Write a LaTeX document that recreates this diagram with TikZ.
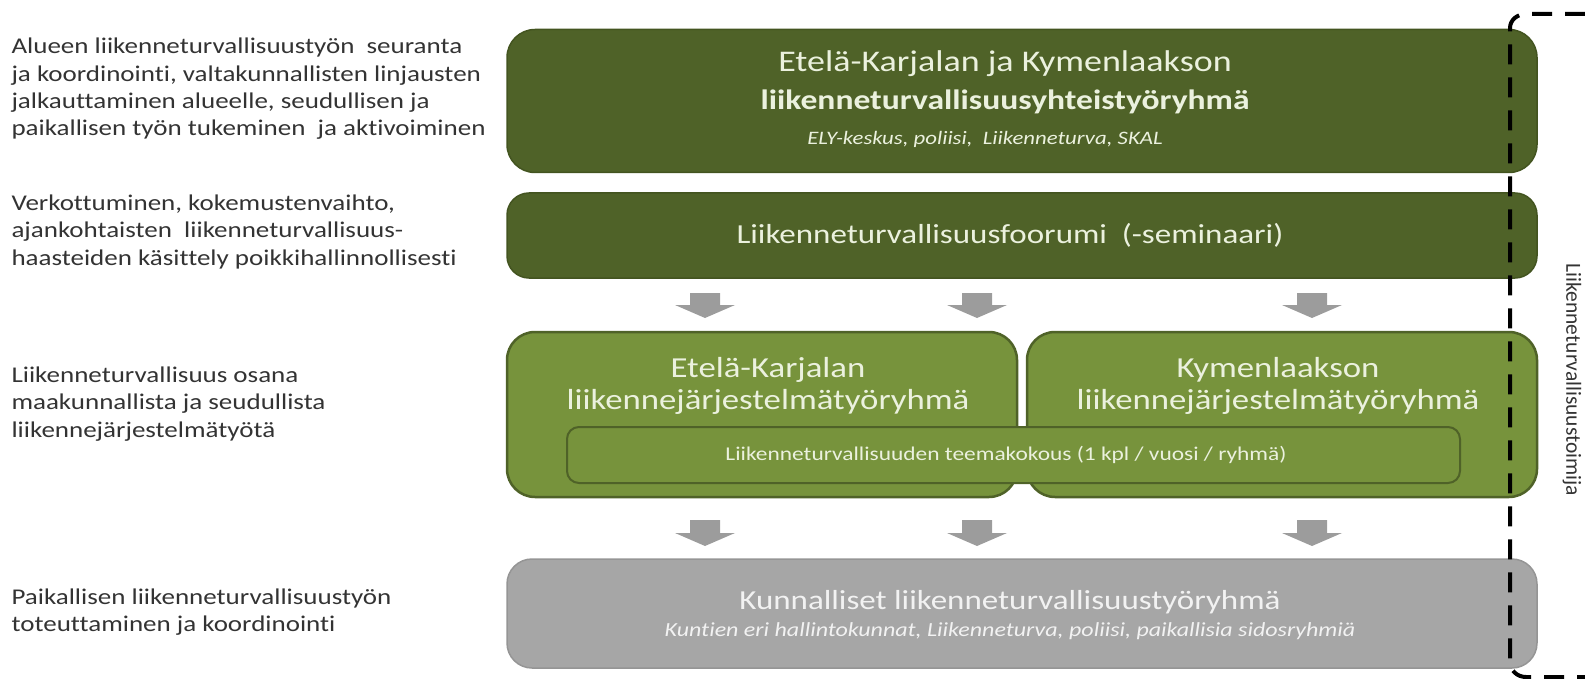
\documentclass[tikz,border=0pt]{standalone}
\usepackage{fontspec}
\setmainfont{Carlito}[FakeStretch=1.2, Ligatures=NoCommon]
\newfontfamily\pystyfont{Carlito}[Ligatures=NoCommon]
\usetikzlibrary{positioning}

\definecolor{tummavihrea}{HTML}{4F6228}
\definecolor{tummareuna}{HTML}{435420}
\definecolor{vihrea}{HTML}{77933C}
\definecolor{harmaa}{HTML}{A6A6A6}
\definecolor{harmaareuna}{HTML}{959595}
\definecolor{nuoliharmaa}{HTML}{9C9C9C}
\definecolor{vaalea}{HTML}{EBF1DE}

\tikzset{
  laatikko/.style={rectangle, rounded corners=28pt, inner sep=0pt, line width=1.5pt},
  ylin/.style={laatikko, fill=tummavihrea, draw=tummareuna},
  keski/.style={laatikko, fill=vihrea, draw=tummavihrea, line width=2.5pt},
  alin/.style={laatikko, fill=harmaa, draw=harmaareuna},
  vasen/.style={anchor=west, align=left, text=black!80, font=\fontsize{22.5}{27.3}\selectfont},
  teksti/.style={text=vaalea, inner sep=0pt},
  nuoli/.style={fill=nuoliharmaa}
}

\begin{document}
\begin{tikzpicture}[x=1pt,y=-1pt]
\useasboundingbox (0,0) rectangle (1585,679);

% laatikot
\node (yhteis) [ylin, minimum width=1030pt, minimum height=143pt] at (1022,101) {};
\node (foorumi) [ylin, rounded corners=22pt, minimum width=1030pt, minimum height=85pt] at (1022,235.5) {};
\node (ekarjala) [keski, minimum width=510pt, minimum height=165pt] at (762,414.5) {};
\node (kymen) [keski, minimum width=510pt, minimum height=165pt] at (1282,414.5) {};
\node (teema) [keski, rounded corners=12pt, line width=2pt, minimum width=893pt, minimum height=56pt] at (1013.5,455) {};
\node (kunta) [alin, rounded corners=25pt, minimum width=1030pt, minimum height=109pt] at (1022,613.5) {};

% tekstit laatikoissa
\node [teksti, font=\fontsize{30}{34}\selectfont] at (1005,64) {Etelä-Karjalan ja Kymenlaakson};
\node [teksti, font=\bfseries\fontsize{28}{32}\selectfont] at (1005,102) {liikenneturvallisuusyhteistyöryhmä};
\node [teksti, font=\itshape\fontsize{19}{22}\selectfont] at (985,139) {ELY-keskus, poliisi,\ \ Liikenneturva, SKAL};
\node [teksti, font=\fontsize{27.5}{32}\selectfont] at (1010,235) {Liikenneturvallisuusfoorumi\ \ (-seminaari)};
\node [teksti, font=\fontsize{29}{32.5}\selectfont, align=center] at (768,386) {Etelä-Karjalan\\liikennejärjestelmätyöryhmä};
\node [teksti, font=\fontsize{29}{32.5}\selectfont, align=center] at (1278,386) {Kymenlaakson\\liikennejärjestelmätyöryhmä};
\node [teksti, font=\fontsize{19.5}{22}\selectfont] at (1006,455) {Liikenneturvallisuuden teemakokous (1 kpl / vuosi / ryhmä)};
\node [teksti, text=white!95!black, font=\fontsize{27.5}{32}\selectfont] at (1010,602) {Kunnalliset liikenneturvallisuustyöryhmä};
\node [teksti, text=white!95!black, font=\itshape\fontsize{20}{23}\selectfont] at (1010,631) {Kuntien eri hallintokunnat, Liikenneturva, poliisi, paikallisia sidosryhmiä};

% nuolet
\foreach \x in {705,977,1312} {
  \fill[nuoli] (\x-15,293) -- (\x+15,293) -- (\x+15,305) -- (\x+30,305) -- (\x,318) -- (\x-30,305) -- (\x-15,305) -- cycle;
  \fill[nuoli] (\x-15,520) -- (\x+15,520) -- (\x+15,533) -- (\x+30,533) -- (\x,546) -- (\x-30,533) -- (\x-15,533) -- cycle;
}

% vasemman reunan tekstit
\node (t1) [vasen] at (8,89) {Alueen liikenneturvallisuustyön\ \ seuranta\\ja koordinointi, valtakunnallisten linjausten\\jalkauttaminen alueelle, seudullisen ja\\paikallisen työn tukeminen\ \ ja aktivoiminen};
\node (t2) [vasen] at (8,232) {Verkottuminen, kokemustenvaihto,\\ajankohtaisten\ \ liikenneturvallisuus-\\haasteiden käsittely poikkihallinnollisesti};
\node (t3) [vasen] at (8,404) {Liikenneturvallisuus osana\\maakunnallista ja seudullista\\liikennejärjestelmätyötä};
\node (t4) [vasen] at (8,612) {Paikallisen liikenneturvallisuustyön\\toteuttaminen ja koordinointi};

% toimija
\draw[line width=4pt, dash pattern=on 20pt off 13pt] (1585,14) -- (1526,14) to[out=180,in=90] (1510,28) -- (1510,662) to[out=-90,in=180] (1526,677) -- (1585,677);
\node (toimija) [rotate=-90, font=\pystyfont\fontsize{21.5}{25}\selectfont, text=black!80] at (1572,380) {Liikenneturvallisuustoimija};
\end{tikzpicture}
\end{document}
